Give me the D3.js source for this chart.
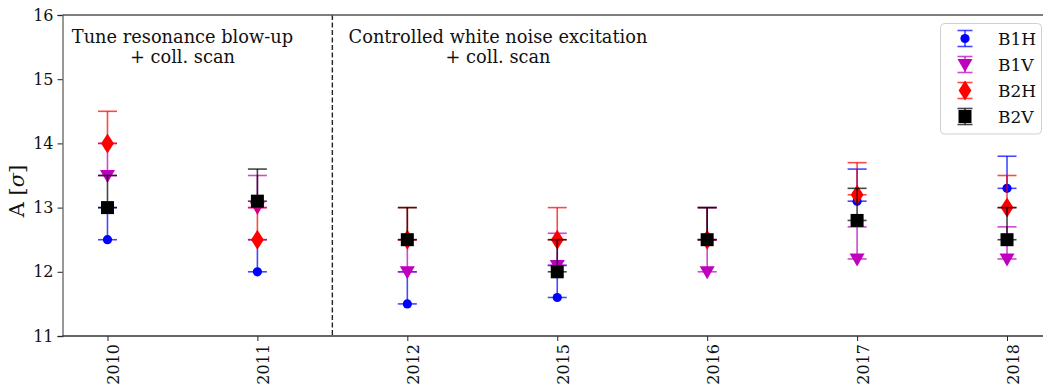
<!DOCTYPE html>
<html><head><meta charset="utf-8">
<script src="https://cdn.jsdelivr.net/npm/d3@7"></script>
<style>body{margin:0;background:#fff}svg{display:block}text{font-family:"DejaVu Serif",serif;fill:#111}</style>
</head><body><svg id="c" width="1043" height="387"></svg>
<script>
const years = ['2010','2011','2012','2015','2016','2017','2018'];
const b1h = [12.5, 12.0, 11.5, 11.6, 12.5, 13.1, 13.3];
const b1v = [13.5, 13.0, 12.0, 12.1, 12.0, 12.2, 12.2];
const b2h = [14.0, 12.5, 12.5, 12.5, 12.5, 13.2, 13.0];
const b2v = [13.0, 13.1, 12.5, 12.0, 12.5, 12.8, 12.5];
const errUp = [0.5, 0.5, 0.5, 0.5, 0.5, 0.5, 0.5];
const seriesNames = ['B1H','B1V','B2H','B2V'];
const seriesColors = ['#0000ff','#bf00bf','#ff0000','#000000'];
const seriesMarkers = ['circle','tri','diamond','square'];
const yTicks = [11,12,13,14,15,16];
const annotations = [
  {lines:['Tune resonance blow-up','+ coll. scan'], pos:0.5},
  {lines:['Controlled white noise excitation','+ coll. scan'], pos:2.605}
];
const series = [b1h,b1v,b2h,b2v];

const svg = d3.select('#c');
const L=62.5, T=15, B=336;
const x = d3.scaleLinear().domain([-0.3, 6.3]).range([L, 1052]);
const y = d3.scaleLinear().domain([11,16]).range([B, T]);

function markerPath(type){
  if(type==='circle') return d3.symbol(d3.symbolCircle, Math.PI*4.6*4.6)();
  if(type==='square') return 'M-6.5,-6.5H6.5V6.5H-6.5Z';
  if(type==='tri') return 'M-7.5,-5.5L7.5,-5.5L0,7.5Z';
  if(type==='diamond') return 'M0,-10L6.4,0L0,10L-6.4,0Z';
}

// dashed separator
svg.append('line').attr('x1',x(1.5)).attr('x2',x(1.5)).attr('y1',T).attr('y2',B)
  .attr('stroke','#222').attr('stroke-width',1.4).attr('stroke-dasharray','5,2.5');

// series
series.forEach((vals,si)=>{
  const g = svg.append('g');
  const col = seriesColors[si];
  vals.forEach((v,i)=>{
    if(v==null) return;
    const cx = x(i), y0 = y(v), y1 = y(v+errUp[i]);
    g.append('line').attr('x1',cx).attr('x2',cx).attr('y1',y0).attr('y2',y1)
      .attr('stroke',col).attr('stroke-width',1.6).attr('stroke-opacity',0.72);
    [y0,y1].forEach(yy=>g.append('line').attr('x1',cx-9.5).attr('x2',cx+9.5).attr('y1',yy).attr('y2',yy)
      .attr('stroke',col).attr('stroke-width',1.6).attr('stroke-opacity',0.72));
    g.append('path').attr('d',markerPath(seriesMarkers[si])).attr('transform',`translate(${cx},${y0})`)
      .attr('fill',col);
  });
});

// axes
const yAxis = d3.axisLeft(y).tickValues(yTicks).tickSize(5).tickPadding(4).tickFormat(d3.format('d'));
const gy = svg.append('g').attr('transform',`translate(${L},0)`).call(yAxis);
gy.select('.domain').attr('stroke','#777').attr('stroke-width',1.5);
gy.selectAll('.tick line').attr('stroke','#222');
gy.selectAll('.tick text').style('font-size','16px').style('font-family','DejaVu Serif').attr('fill','#111');

const xAxis = d3.axisBottom(x).tickValues(d3.range(years.length)).tickSize(5).tickFormat(i=>years[i]);
const gx = svg.append('g').attr('transform',`translate(0,${B})`).call(xAxis);
gx.select('.domain').remove();
svg.append('line').attr('x1',L).attr('x2',1043).attr('y1',B).attr('y2',B).attr('stroke','#333').attr('stroke-width',1.5);
svg.append('line').attr('x1',L).attr('x2',1043).attr('y1',T).attr('y2',T).attr('stroke','#555').attr('stroke-width',1.5);
gx.selectAll('.tick line').attr('stroke','#222');
gx.selectAll('.tick text').style('font-size','16px').style('font-family','DejaVu Serif').attr('fill','#111')
  .attr('text-anchor','end').attr('dy',null).attr('y',0)
  .attr('transform','translate(11,8) rotate(-90)');

// y label
svg.append('text').attr('transform','translate(24,191) rotate(-90)').attr('text-anchor','middle')
  .style('font-size','21px').html('A [<tspan font-style="italic">σ</tspan>]');

// annotations
annotations.forEach(a=>{
  const t = svg.append('text').attr('text-anchor','middle').style('font-size','17.8px');
  a.lines.forEach((ln,k)=>t.append('tspan').attr('x',x(a.pos)).attr('y',43+k*20).text(ln));
});

// legend
const lg = svg.append('g');
lg.append('rect').attr('x',940.5).attr('y',23.5).attr('width',101).attr('height',110.5).attr('rx',4)
  .attr('fill','#fff').attr('fill-opacity',0.8).attr('stroke','#d0d0d0');
seriesNames.forEach((n,si)=>{
  const cy = 38.5 + si*26, cx = 965, col = seriesColors[si];
  lg.append('line').attr('x1',cx).attr('x2',cx).attr('y1',cy-8).attr('y2',cy+8).attr('stroke',col).attr('stroke-width',1.6).attr('stroke-opacity',0.72);
  [cy-8,cy+8].forEach(yy=>lg.append('line').attr('x1',cx-7.5).attr('x2',cx+7.5).attr('y1',yy).attr('y2',yy).attr('stroke',col).attr('stroke-width',1.6).attr('stroke-opacity',0.72));
  lg.append('path').attr('d',markerPath(seriesMarkers[si])).attr('transform',`translate(${cx},${cy})`).attr('fill',col);
  lg.append('text').attr('x',998).attr('y',cy+6).style('font-size','17px').text(n);
});
</script></body></html>
